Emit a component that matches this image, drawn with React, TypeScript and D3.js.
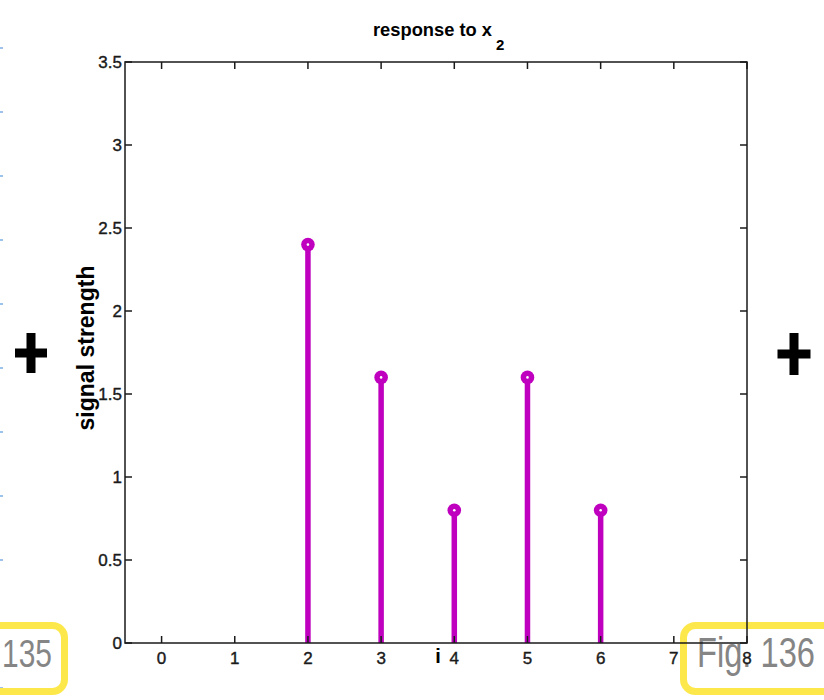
import React from "react";
import * as d3 from "d3";

const stemX = [2, 3, 4, 5, 6];
const stemY = [2.4, 1.6, 0.8, 1.6, 0.8];
const xTicks = [0, 1, 2, 3, 4, 5, 6, 7, 8];
const yTicks = [0, 0.5, 1, 1.5, 2, 2.5, 3, 3.5];
const sideMarks = [48, 112, 176, 240, 304, 368, 432, 496, 560, 624, 688];

const W = 824;
const H = 700;
const L = 125, R = 747, T = 62, B = 643;

export default function App() {
  const x = d3.scaleLinear().domain([-0.5, 8]).range([L, R]);
  const y = d3.scaleLinear().domain([0, 3.5]).range([B, T]);
  const magenta = "#BF00BF";
  const axisColor = "#1a1a1a";
  const yellow = "#FDE84C";
  const gray = "#858585";
  const font = "'Liberation Sans', Arial, Helvetica, sans-serif";
  const tickLen = 7;

  return (
    <svg width={W} height={H} style={{ position: "absolute", left: 0, top: 0, background: "#fff" }}>
      <rect x={0} y={0} width={W} height={H} fill="#fff" />
      {/* left edge blue marks */}
      {sideMarks.map((m, i) => (
        <line key={i} x1={0} x2={3} y1={m} y2={m} stroke="#5b9be0" strokeWidth={1.2} />
      ))}
      {/* yellow boxes */}
      <rect x={-30} y={625.5} width={94.5} height={66} rx={12} fill="none" stroke={yellow} strokeWidth={7} />
      <text x={2} y={667} fontFamily={font} fontSize={39} fill={gray} textLength={50} lengthAdjust="spacingAndGlyphs">135</text>
      <rect x={683.5} y={625.5} width={170} height={66} rx={12} fill="none" stroke={yellow} strokeWidth={7} />
      <text x={697} y={667} fontFamily={font} fontSize={42} fill={gray} textLength={118} lengthAdjust="spacingAndGlyphs">Fig. 136</text>

      {/* plus signs */}
      <g fill="#000">
        <rect x={31 - 4.5} y={353 - 20} width={9} height={40} />
        <rect x={31 - 16} y={353 - 4.5} width={32} height={9} />
        <rect x={794 - 4.5} y={354 - 21} width={9} height={42} />
        <rect x={794 - 16.5} y={354 - 4.5} width={33} height={9} />
      </g>

      {/* title */}
      <text x={373} y={36} fontFamily={font} fontSize={19} fontWeight="bold" fill="#000" textLength={119} lengthAdjust="spacingAndGlyphs">
        response to x
      </text>
      <text x={496} y={50} fontFamily={font} fontSize={15} fontWeight="bold" fill="#000">2</text>

      {/* y label */}
      <text transform={`translate(94, ${(267 + 429) / 2}) rotate(-90)`} textAnchor="middle" fontFamily={font} fontSize={23} fontWeight="bold" fill="#000">
        signal strength
      </text>
      {/* x label */}
      <text x={438} y={663} textAnchor="middle" fontFamily={font} fontSize={20} fontWeight="bold" fill="#000">i</text>

      {/* stems */}
      {stemX.map((v, i) => (
        <g key={i}>
          <line x1={x(v)} x2={x(v)} y1={y(0)} y2={y(stemY[i])} stroke={magenta} strokeWidth={5.5} />
          <circle cx={x(v)} cy={y(stemY[i])} r={6.8} fill={magenta} />
          <circle cx={x(v)} cy={y(stemY[i])} r={1.3} fill="#fff" />
        </g>
      ))}

      {/* axes box */}
      <rect x={L} y={T} width={R - L} height={B - T} fill="none" stroke={axisColor} strokeWidth={1.5} />
      {xTicks.map((t) => (
        <g key={"x" + t}>
          <line x1={x(t)} x2={x(t)} y1={B} y2={B - tickLen} stroke={axisColor} strokeWidth={1.5} />
          <line x1={x(t)} x2={x(t)} y1={T} y2={T + tickLen} stroke={axisColor} strokeWidth={1.5} />
          <text x={x(t)} y={664} textAnchor="middle" fontFamily={font} fontSize={17} fill="#1a1a1a" stroke="#1a1a1a" strokeWidth={0.4}>{t}</text>
        </g>
      ))}
      {yTicks.map((t) => (
        <g key={"y" + t}>
          <line x1={L} x2={L + tickLen} y1={y(t)} y2={y(t)} stroke={axisColor} strokeWidth={1.5} />
          <line x1={R} x2={R - tickLen} y1={y(t)} y2={y(t)} stroke={axisColor} strokeWidth={1.5} />
          <text x={122} y={y(t)} dy="0.36em" textAnchor="end" fontFamily={font} fontSize={17} fill="#1a1a1a" stroke="#1a1a1a" strokeWidth={0.4}>{t}</text>
        </g>
      ))}
    </svg>
  );
}
